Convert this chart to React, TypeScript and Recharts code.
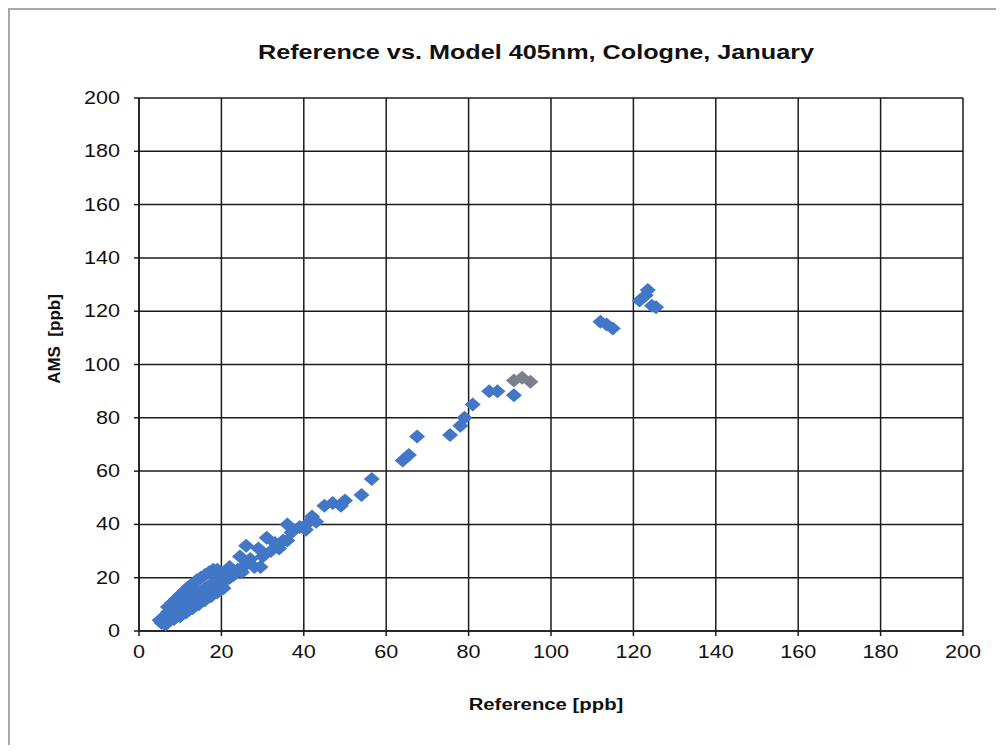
import React from 'react';
import { ScatterChart, Scatter, XAxis, YAxis, CartesianGrid } from 'recharts';

// Reference [ppb] vs AMS [ppb], main series
const refValues = [
  5, 5.5, 6, 6, 6.5, 7, 7, 7.5, 8, 8, 8.5, 9, 9, 9.5, 10, 10, 10.5, 11, 11, 11.5,
  12, 12, 12.5, 13, 13, 13.5, 14, 14, 14.5, 15, 15, 15.5, 16, 16, 16.5, 17, 17, 17.5,
  18, 18, 18.5, 19, 19, 20, 20, 21, 22, 22, 23, 24, 25, 24.5, 26, 26, 27, 28, 29, 29.5,
  31, 30, 32, 34, 33, 35, 36, 36, 37, 39, 40.5, 41, 42, 43, 45, 47, 49, 50, 54, 56.5,
  64, 65.5, 67.5, 75.5, 78, 79, 81, 85, 87, 91, 112, 113.5, 115, 121.5, 123, 123.5,
  124.5, 125.5,
  7, 8, 9, 10, 11, 12, 13, 14, 15, 16, 17, 18, 19, 10, 11.5, 13, 14.5, 16, 17.5, 19,
  6.5, 8.5, 20.5, 21.5
];
const amsValues = [
  4, 3, 5, 3, 6, 4, 7, 5, 6, 8, 7, 6, 9, 8, 7, 10, 9, 8, 11, 10,
  9, 12, 11, 10, 13, 12, 11, 14, 13, 12, 15, 14, 13, 16, 15, 14, 17, 16,
  15, 18, 17, 16, 19.5, 17, 21, 19, 20, 24, 21, 23, 22, 28, 25, 32, 27, 24, 31, 24,
  35, 28, 30, 31, 33, 34, 40, 34, 37, 39, 38, 40.5, 43, 41, 47, 48, 47, 49, 51, 57,
  64, 66, 73, 73.5, 77, 80, 85, 90, 90, 88.5, 116, 115, 113.5, 124, 126, 128,
  122, 121.5,
  9, 10.5, 12, 13.5, 15, 16.5, 17.5, 19, 20, 21, 22, 23, 23, 5.5, 7, 8.5, 10, 11.5, 13, 14.5,
  2.5, 4.5, 16, 22
];

// second (grey) series
const greyRef = [91, 93, 95];
const greyAms = [94, 95, 93.5];

const axisTicks = [0, 20, 40, 60, 80, 100, 120, 140, 160, 180, 200];

const mainData = refValues.map((x, i) => ({ x, y: amsValues[i] }));
const greyData = greyRef.map((x, i) => ({ x, y: greyAms[i] }));

const Diamond = (color: string) => (props: any) => {
  const { cx, cy } = props;
  if (cx == null || cy == null) return null;
  return (
    <polygon
      points={`${cx - 8},${cy} ${cx},${cy - 7} ${cx + 8},${cy} ${cx},${cy + 7}`}
      fill={color}
    />
  );
};

const XTick = (props: any) => {
  const { x, y, payload } = props;
  return (
    <g transform={`translate(${x},${y})`}>
      <text x={0} y={0} dy={20} textAnchor="middle" fontSize={18} fill="#111"
        fontFamily="Arial, 'Liberation Sans', sans-serif" transform="scale(1.2,1)">
        {payload.value}
      </text>
    </g>
  );
};

const YTick = (props: any) => {
  const { x, y, payload } = props;
  return (
    <g transform={`translate(${x - 12},${y})`}>
      <text x={0} y={0} dy={6} textAnchor="end" fontSize={18} fill="#111"
        fontFamily="Arial, 'Liberation Sans', sans-serif" transform="scale(1.2,1)">
        {payload.value}
      </text>
    </g>
  );
};

const App: React.FC = () => {
  return (
    <div style={{ position: 'relative', margin: -8, width: 1004, height: 753, overflow: 'hidden', background: '#fff', fontFamily: "Arial, 'Liberation Sans', sans-serif" }}>
      <div style={{ position: 'absolute', left: 8, top: 8, width: 1010, height: 760, border: '2px solid #a8a8a8' }} />
      <div style={{ position: 'absolute', left: 236, top: 40, width: 600, textAlign: 'center', fontSize: 21, fontWeight: 'bold', color: '#111', transform: 'scaleX(1.2)' }}>
        Reference vs. Model 405nm, Cologne, January
      </div>
      <div style={{ position: 'absolute', left: 446, top: 696, width: 200, textAlign: 'center', fontSize: 16, fontWeight: 'bold', color: '#111', transform: 'scaleX(1.27)' }}>
        Reference [ppb]
      </div>
      <div style={{ position: 'absolute', left: 0, top: 329, width: 110, textAlign: 'center', fontSize: 17, fontWeight: 'bold', color: '#111', transform: 'rotate(-90deg)', whiteSpace: 'pre' }}>
        AMS  [ppb]
      </div>
      <div style={{ position: 'absolute', left: 0, top: 0 }}>
        <ScatterChart width={1004} height={753} margin={{ top: 98, right: 41, bottom: 82, left: 69 }}>
          <CartesianGrid stroke="#1a1a1a" strokeWidth={1.5} />
          <XAxis
            type="number"
            dataKey="x"
            domain={[0, 200]}
            ticks={axisTicks}
            height={40}
            tickSize={5}
            stroke="#1a1a1a"
            strokeWidth={1.5}
            tick={<XTick />}
            allowDataOverflow
          />
          <YAxis
            type="number"
            dataKey="y"
            domain={[0, 200]}
            ticks={axisTicks}
            width={70}
            tickSize={5}
            stroke="#1a1a1a"
            strokeWidth={1.5}
            tick={<YTick />}
            allowDataOverflow
          />
          <Scatter data={mainData} shape={Diamond('#4177c6')} isAnimationActive={false} />
          <Scatter data={greyData} shape={Diamond('#7d7f8c')} isAnimationActive={false} />
        </ScatterChart>
      </div>
    </div>
  );
};

export default App;
